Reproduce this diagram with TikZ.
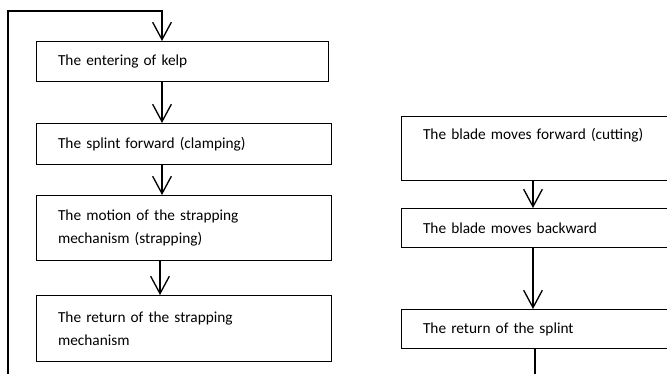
\documentclass[tikz,border=0pt]{standalone}
\usepackage{fontspec}
\setmainfont{Carlito}
\usetikzlibrary{arrows.meta}
\tikzset{box/.style={draw, line width = 1pt, anchor = north west, align = left,
  inner xsep = 16pt, font = \fontsize{11.5pt}{17pt}\selectfont}}
\tikzset{flow/.style={line width = 1pt, -{Straight Barb[length = 13pt, width = 14pt]}}}

\begin{document}
\begin{tikzpicture}[x = 0.75pt, y = -0.75pt]
	\clip (0,0) rectangle (667,374);
	
	\node[box, text width = 187pt, minimum height = 30pt] (kelp) at (36,41) {The entering of kelp};
	\node[box, text width = 189pt, minimum height = 30.75pt] (clamp) at (36,123) {The splint forward (clamping)};
	\node[box, text width = 189pt, minimum height = 48.75pt] (strap) at (36,195) {The motion of the strapping\\ mechanism (strapping)};
	\node[box, text width = 189pt, minimum height = 49.5pt] (ret) at (36,295) {The return of the strapping\\ mechanism};
	
	\node[box, text width = 250pt, minimum height = 48pt] (cutting) at (401,116) {The blade moves forward (cutting)\\ \strut};
	\node[box, text width = 250pt, minimum height = 29.25pt] (back) at (401,208) {The blade moves backward};
	\node[box, text width = 250pt, minimum height = 29.25pt] (splint) at (401,309) {The return of the splint};
	
	\coordinate (top) at (162,11);
	\coordinate (loop) at (8,380);
	\coordinate (mid) at (160,0);
	\coordinate (cut) at (533,0);
	\coordinate (down) at (535,380);
	
	\draw[flow] (loop) |- (top) -- (kelp.north -| top);
	\draw[flow] (kelp.south -| top) -- (clamp.north -| top);
	\draw[flow] (clamp.south -| top) -- (strap.north -| top);
	\draw[flow] (strap.south -| mid) -- (ret.north -| mid);
	
	\draw[flow] (cutting.south -| cut) -- (back.north -| cut);
	\draw[flow] (back.south -| cut) -- (splint.north -| cut);
	\draw[line width = 1pt] (splint.south -| down) -- (down);
\end{tikzpicture}
\end{document}
